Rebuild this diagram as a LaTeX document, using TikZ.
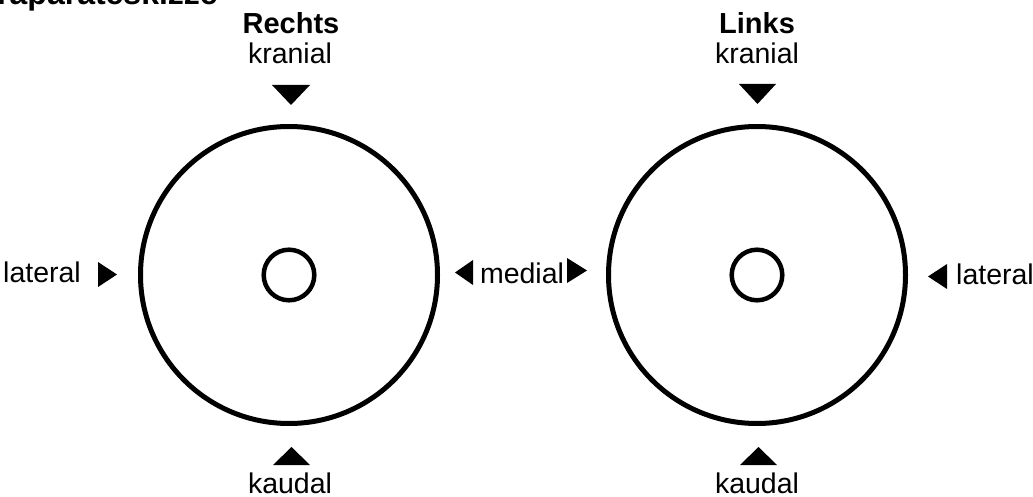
\documentclass[tikz,border=0pt]{standalone}
\usepackage{fontspec}
\setmainfont{Liberation Sans}
\begin{document}
\begin{tikzpicture}[x=1pt,y=-1pt,
  lbl/.style={inner sep=0pt,font=\fontsize{28.5}{30}\selectfont},
  ttl/.style={inner sep=0pt,font=\fontsize{29}{31}\selectfont\bfseries},
  outer/.style={draw=black,line width=5pt},
  inner/.style={draw=black,line width=4.5pt},
  tri/.style={fill=black}]
\useasboundingbox (0,0) rectangle (1033,497);
% title (cut off at top)
\node[inner sep=0pt,anchor=base east,font=\fontsize{32}{34}\selectfont\bfseries] (title) at (218,4.5) {Präparateskizze};
% left (Rechts)
\node[ttl,anchor=base] (rechts) at (291,34) {Rechts};
\node[lbl,anchor=base] (kranR) at (290,64) {kranial};
\node[lbl,anchor=base] (kaudR) at (290,493) {kaudal};
\node[lbl,anchor=base west] (latR) at (3,282) {lateral};
\node[lbl,anchor=base] (med) at (522,283) {medial};
\draw[outer] (289,275) circle[radius=148.5];
\draw[inner] (289,275) circle[radius=25.3];
\fill[tri] (272,85) -- (310,85) -- (291,105) -- cycle;
\fill[tri] (273,465) -- (310,465) -- (291.5,447) -- cycle;
\fill[tri] (98,262) -- (98,287) -- (117,274.5) -- cycle;
\fill[tri] (473,260) -- (473,285) -- (455,272.5) -- cycle;
% right (Links)
\node[ttl,anchor=base] (links) at (757,34) {Links};
\node[lbl,anchor=base] (kranL) at (757,64) {kranial};
\node[lbl,anchor=base] (kaudL) at (757,493) {kaudal};
\node[lbl,anchor=base west] (latL) at (956,284) {lateral};
\draw[outer] (757,275) circle[radius=148.5];
\draw[inner] (757,275) circle[radius=25.3];
\fill[tri] (739,84) -- (776,84) -- (757.5,104) -- cycle;
\fill[tri] (740,465) -- (777,465) -- (758.5,447) -- cycle;
\fill[tri] (567,258) -- (567,283) -- (587,270.5) -- cycle;
\fill[tri] (947,264) -- (947,289) -- (928,276.5) -- cycle;
\end{tikzpicture}
\end{document}
